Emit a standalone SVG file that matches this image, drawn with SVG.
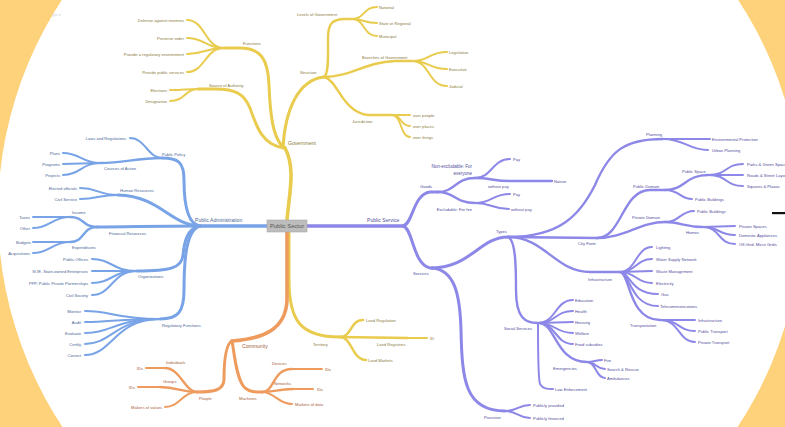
<svg xmlns="http://www.w3.org/2000/svg" width="785" height="427" viewBox="0 0 785 427">
<style>
text{font-family:"Liberation Sans",Arial,sans-serif;font-size:4.1px;dominant-baseline:central}
.m{font-size:5.1px}
.e{text-anchor:end}
.ty{fill:#8a7a3a}.tb{fill:#4a6696}.tp{fill:#514d9c}.to{fill:#a5603a}
path{fill:none;stroke-linecap:round}
.y{stroke:#e9cb4d}.b{stroke:#78a3e6}.p{stroke:#8d88e7}.o{stroke:#ee9b5e}
.w1{stroke-width:3.6}.w2{stroke-width:3}.w3{stroke-width:2.4}.w4{stroke-width:2}
</style>
<rect width="785" height="427" fill="#fed27b"/>
<ellipse cx="400" cy="213" rx="402" ry="394" fill="#ffffff"/>
<text x="52" y="14" style="fill:#cfcfcf">gle.it</text>
<rect x="772" y="212" width="13" height="2.2" fill="#111"/>

<g id="connectors">
<!-- Government -->
<path class="y w1" d="M287,220 C289,195 296,168 285,148"/>
<path class="y w2" d="M285,148 C272,140 270,110 269,85 C268,58 260,48 240,48 L224,48"/>
<path class="y w4" d="M224,48 C205,48 205,20 187,20"/>
<path class="y w4" d="M224,48 C205,48 205,38 187,38"/>
<path class="y w4" d="M224,48 C205,48 205,54 187,54"/>
<path class="y w4" d="M224,48 C205,48 205,72 187,72"/>
<path class="y w2" d="M285,148 C262,146 256,125 250,108 C244,94 236,89 215,89 L198,89"/>
<path class="y w4" d="M198,89 C185,89 185,90 170,90"/>
<path class="y w4" d="M198,89 C185,89 185,101 170,101"/>
<path class="y w2" d="M283,148 C285,110 298,80 324,77"/>
<path class="y w3" d="M324,77 C329,74 328,55 328,38 C328,24 332,19 345,19 L352,19"/>
<path class="y w4" d="M352,19 C365,19 363,7 377,7"/>
<path class="y w4" d="M352,19 C365,19 363,23 377,23"/>
<path class="y w4" d="M352,19 C365,19 363,36 377,36"/>
<path class="y w3" d="M324,77 C350,77 365,62 395,61 L412,61"/>
<path class="y w4" d="M412,61 C430,61 428,52 447,52"/>
<path class="y w4" d="M412,61 C430,61 428,69 447,69"/>
<path class="y w4" d="M412,61 C430,61 428,86 447,86"/>
<path class="y w3" d="M324,77 C338,80 342,112 368,115 L392,115"/>
<path class="y w4" d="M392,115 L410,115"/>
<path class="y w4" d="M392,115 C402,115 400,126 410,126"/>
<path class="y w4" d="M392,115 C402,115 400,137 410,137"/>
<path class="y w2" d="M289,232 L289,280 C289,320 300,337 340,337"/>
<path class="y w3" d="M340,337 C352,337 350,320 363,320"/>
<path class="y w3" d="M340,337 L408,338"/>
<path class="y w4" d="M408,338 L427,338"/>
<path class="y w3" d="M340,337 C352,337 352,360 366,360"/>
<!-- Community -->
<path class="o w1" d="M287,232 L287,300 C286,330 262,339 232,341"/>
<path class="o w2" d="M232,341 C224,345 224,370 224,380 C223,390 215,392 197,392"/>
<path class="o w3" d="M197,392 C185,392 180,368 165,368"/>
<path class="o w4" d="M165,368 L146,368"/>
<path class="o w3" d="M197,392 C180,392 178,387 160,387"/>
<path class="o w4" d="M160,387 L138,387"/>
<path class="o w4" d="M197,392 C182,392 180,407 165,407"/>
<path class="o w2" d="M232,341 C234,350 236,380 245,388 C250,392 255,392 262,392"/>
<path class="o w3" d="M262,392 C275,392 272,369 292,369"/>
<path class="o w4" d="M292,369 L322,369"/>
<path class="o w3" d="M262,392 C275,392 278,389 293,389"/>
<path class="o w4" d="M293,389 L313,389"/>
<path class="o w4" d="M262,392 C275,392 278,404 292,404"/>
<!-- Public Administration -->
<path class="b w1" d="M267,226 L200,226"/>
<path class="b w2" d="M200,226 C186,224 184,200 184,180 C184,162 178,158 162,158"/>
<path class="b w4" d="M162,158 C148,158 145,138 130,138"/>
<path class="b w3" d="M162,158 C135,158 125,163 100,163"/>
<path class="b w4" d="M100,163 C82,163 80,153 63,153"/>
<path class="b w4" d="M100,163 C82,163 80,164 63,164"/>
<path class="b w4" d="M100,163 C82,163 80,175 63,175"/>
<path class="b w2" d="M200,226 C170,225 160,196 118,195"/>
<path class="b w4" d="M118,195 C98,195 98,188 80,188"/>
<path class="b w4" d="M118,195 C98,195 98,199 80,199"/>
<path class="b w2" d="M200,226 C150,226 130,227 97,227"/>
<path class="b w3" d="M97,227 C82,227 85,217 70,217"/>
<path class="b w4" d="M70,217 L33,217"/>
<path class="b w4" d="M70,217 C52,217 50,228 33,228"/>
<path class="b w3" d="M97,227 C82,227 85,242 70,242"/>
<path class="b w4" d="M70,242 L33,242"/>
<path class="b w4" d="M70,242 C52,242 50,253 33,253"/>
<path class="b w2" d="M200,226 C186,228 184,245 183,255 C182,268 170,271 137,271"/>
<path class="b w4" d="M137,271 C112,271 112,259 92,259"/>
<path class="b w4" d="M137,271 L92,271"/>
<path class="b w4" d="M137,271 C112,271 112,283 92,283"/>
<path class="b w4" d="M137,271 C112,271 112,295 92,295"/>
<path class="b w2" d="M200,226 C186,230 184,260 184,290 C184,312 178,319 160,319"/>
<path class="b w4" d="M160,319 C115,319 112,311 85,311"/>
<path class="b w4" d="M160,319 C115,319 112,322 85,322"/>
<path class="b w4" d="M160,319 C115,319 112,333 85,333"/>
<path class="b w4" d="M160,319 C115,319 112,344 85,344"/>
<path class="b w4" d="M160,319 C115,319 112,355 85,355"/>
<!-- Public Service -->
<path class="p w1" d="M307,226 L403,226"/>
<path class="p w2" d="M403,226 C413,224 413,194 430,192 L438,192"/>
<path class="p w3" d="M438,192 C455,192 455,178 475,178"/>
<path class="p w4" d="M475,178 C492,178 492,159 510,159"/>
<path class="p w3" d="M475,178 C492,178 492,181 510,181 L552,181"/>
<path class="p w3" d="M438,192 C455,192 455,203 475,203"/>
<path class="p w4" d="M475,203 C492,203 492,194 510,194"/>
<path class="p w4" d="M475,203 C492,203 492,209 509,209"/>
<path class="p w2" d="M403,226 C413,228 413,265 430,268 L432,268"/>
<path class="p w2" d="M432,268 C470,268 480,237 508,237"/>
<path class="p w3" d="M508,237 C560,237 580,215 595,185 C610,150 625,139 663,139"/>
<path class="p w4" d="M663,139 L710,139"/>
<path class="p w4" d="M663,139 C685,139 688,150 708,150"/>
<path class="p w3" d="M508,237 L597,238"/>
<path class="p w3" d="M597,238 C622,238 622,190 650,190 L665,190"/>
<path class="p w3" d="M665,190 C685,190 685,175 708,175"/>
<path class="p w4" d="M708,175 C728,175 725,164 743,164"/>
<path class="p w4" d="M708,175 L743,175"/>
<path class="p w4" d="M708,175 C728,175 725,186 743,186"/>
<path class="p w4" d="M665,190 C680,190 680,199 692,199"/>
<path class="p w3" d="M597,238 C625,238 640,222 665,222"/>
<path class="p w4" d="M665,222 C680,222 680,211 694,211"/>
<path class="p w3" d="M665,222 C680,222 685,227 703,227"/>
<path class="p w4" d="M703,227 L735,226"/>
<path class="p w4" d="M703,227 C720,227 718,235 735,235"/>
<path class="p w4" d="M703,227 C720,227 718,244 735,244"/>
<path class="p w3" d="M508,237 C545,237 555,272 590,272 L620,272"/>
<path class="p w4" d="M620,272 C636,272 636,247 652,247"/>
<path class="p w4" d="M620,272 C636,272 636,259 652,259"/>
<path class="p w4" d="M620,272 L652,271"/>
<path class="p w4" d="M620,272 C636,272 636,283 652,283"/>
<path class="p w4" d="M620,272 C630,272 630,294 658,294"/>
<path class="p w4" d="M620,272 C630,272 630,306 658,306"/>
<path class="p w3" d="M620,272 C630,272 628,320 660,320"/>
<path class="p w4" d="M660,320 L695,320"/>
<path class="p w4" d="M660,320 C680,320 678,331 695,331"/>
<path class="p w4" d="M660,320 C680,320 678,342 695,342"/>
<path class="p w3" d="M508,237 C516,240 516,270 516,290 C516,318 525,323 538,323"/>
<path class="p w4" d="M538,323 C556,323 555,300 573,300"/>
<path class="p w4" d="M538,323 C556,323 555,311 573,311"/>
<path class="p w4" d="M538,323 L573,322"/>
<path class="p w4" d="M538,323 C556,323 555,333 573,333"/>
<path class="p w4" d="M538,323 C556,323 555,344 573,344"/>
<path class="p w3" d="M540,323 C556,325 556,362 587,362"/>
<path class="p w4" d="M587,362 C595,362 595,360 602,360"/>
<path class="p w4" d="M587,362 C596,362 596,369 605,369"/>
<path class="p w4" d="M587,362 C596,362 596,378 605,378"/>
<path class="p w4" d="M538,323 C538,340 538,378 540,384 C543,389 547,389 553,389"/>
<path class="p w2" d="M432,268 C455,270 460,295 461,330 C462,380 465,411 505,411"/>
<path class="p w4" d="M505,411 C518,411 518,405 530,405"/>
<path class="p w4" d="M505,411 C518,411 518,418 530,418"/>
</g>

<g id="center"><rect x="267" y="220" width="40" height="12" fill="#bdbdbd" stroke="#a8a8a8" stroke-width="0.6"/><text x="287" y="226.3" style="font-size:5.8px;fill:#555;text-anchor:middle">Public Sector</text></g>

<g id="government"><text class="ty m" x="288" y="143">Government</text></g>
<g id="functions"><text class="ty" x="243" y="43">Functions</text></g>
<g id="defense"><text class="ty e" x="184" y="20">Defense against enemies</text></g>
<g id="preserve"><text class="ty e" x="184" y="38">Preserve order</text></g>
<g id="regulatory-env"><text class="ty e" x="184" y="54">Provide a regulatory environment</text></g>
<g id="public-services"><text class="ty e" x="184" y="72">Provide public services</text></g>
<g id="source"><text class="ty" x="209" y="85">Source of Authority</text></g>
<g id="elections"><text class="ty e" x="167" y="90">Elections</text></g>
<g id="designation"><text class="ty e" x="167" y="101">Designation</text></g>
<g id="structure"><text class="ty" x="300" y="72">Structure</text></g>
<g id="levels"><text class="ty" x="297" y="14">Levels of Government</text></g>
<g id="national"><text class="ty" x="379" y="7">National</text></g>
<g id="state"><text class="ty" x="379" y="23">State or Regional</text></g>
<g id="municipal"><text class="ty" x="379" y="36">Municipal</text></g>
<g id="branches"><text class="ty" x="362" y="57">Branches of Government</text></g>
<g id="legislative"><text class="ty" x="449" y="52">Legislative</text></g>
<g id="executive"><text class="ty" x="449" y="69">Executive</text></g>
<g id="judicial"><text class="ty" x="449" y="86">Judicial</text></g>
<g id="jurisdiction"><text class="ty" x="352" y="121">Jurisdiction</text></g>
<g id="over-people"><text class="ty" x="413" y="115">over people</text></g>
<g id="over-places"><text class="ty" x="413" y="126">over places</text></g>
<g id="over-things"><text class="ty" x="413" y="137">over things</text></g>
<g id="territory"><text class="ty" x="313" y="344">Territory</text></g>
<g id="land-regulation"><text class="ty" x="366" y="320">Land Regulation</text></g>
<g id="land-registries"><text class="ty" x="377" y="344">Land Registries</text></g>
<g id="id"><text class="ty" x="430" y="338">ID</text></g>
<g id="land-markets"><text class="ty" x="368" y="360">Land Markets</text></g>

<g id="community"><text class="to m" x="242" y="346">Community</text></g>
<g id="people"><text class="to" x="199" y="398">People</text></g>
<g id="individuals"><text class="to" x="166" y="362">Individuals</text></g>
<g id="ids-1"><text class="to e" x="143" y="368">IDs</text></g>
<g id="groups"><text class="to" x="163" y="381">Groups</text></g>
<g id="ids-2"><text class="to e" x="135" y="387">IDs</text></g>
<g id="makers"><text class="to e" x="162" y="407">Makers of values</text></g>
<g id="machines"><text class="to" x="239" y="398">Machines</text></g>
<g id="devices"><text class="to" x="272" y="363">Devices</text></g>
<g id="ids-3"><text class="to" x="325" y="369">IDs</text></g>
<g id="networks"><text class="to" x="274" y="383">Networks</text></g>
<g id="ids-4"><text class="to" x="317" y="389">IDs</text></g>
<g id="markets-data"><text class="to" x="295" y="404">Markets of data</text></g>

<g id="public-administration"><text class="tb m" x="195" y="220">Public Administration</text></g>
<g id="public-policy"><text class="tb" x="162" y="154">Public Policy</text></g>
<g id="laws"><text class="tb e" x="126" y="138">Laws and Regulations</text></g>
<g id="courses"><text class="tb" x="104" y="168">Courses of Action</text></g>
<g id="plans"><text class="tb e" x="60" y="153">Plans</text></g>
<g id="programs"><text class="tb e" x="60" y="164">Programs</text></g>
<g id="projects"><text class="tb e" x="60" y="175">Projects</text></g>
<g id="human-resources"><text class="tb" x="120" y="190">Human Resources</text></g>
<g id="elected"><text class="tb e" x="77" y="188">Elected officials</text></g>
<g id="civil-service"><text class="tb e" x="77" y="199">Civil Service</text></g>
<g id="financial"><text class="tb" x="109" y="233">Financial Resources</text></g>
<g id="income"><text class="tb" x="72" y="212">Income</text></g>
<g id="taxes"><text class="tb e" x="30" y="217">Taxes</text></g>
<g id="other"><text class="tb e" x="30" y="228">Other</text></g>
<g id="expenditures"><text class="tb" x="72" y="247">Expenditures</text></g>
<g id="budgets"><text class="tb e" x="31" y="242">Budgets</text></g>
<g id="acquisitions"><text class="tb e" x="30" y="253">Acquisitions</text></g>
<g id="organizations"><text class="tb" x="138" y="276">Organizations</text></g>
<g id="public-offices"><text class="tb e" x="88" y="259">Public Offices</text></g>
<g id="soe"><text class="tb e" x="88" y="271">SOE, State-owned Enterprises</text></g>
<g id="ppp"><text class="tb e" x="88" y="283">PPP, Public Private Partnerships</text></g>
<g id="civil-society"><text class="tb e" x="88" y="295">Civil Society</text></g>
<g id="regulatory-functions"><text class="tb" x="162" y="325">Regulatory Functions</text></g>
<g id="monitor"><text class="tb e" x="81" y="311">Monitor</text></g>
<g id="audit"><text class="tb e" x="81" y="322">Audit</text></g>
<g id="evaluate"><text class="tb e" x="81" y="333">Evaluate</text></g>
<g id="certify"><text class="tb e" x="81" y="344">Certify</text></g>
<g id="correct"><text class="tb e" x="81" y="355">Correct</text></g>

<g id="public-service"><text class="tp m" x="367" y="220">Public Service</text></g>
<g id="goods"><text class="tp" x="420" y="186">Goods</text></g>
<g id="non-excludable"><text class="tp e" x="472" y="166" style="font-size:4.5px">Non-excludable: For</text><text class="tp e" x="472" y="173" style="font-size:4.5px">everyone</text></g>
<g id="pay-1"><text class="tp" x="513" y="159">Pay</text></g>
<g id="without-pay-1"><text class="tp" x="488" y="186">without pay</text></g>
<g id="nature"><text class="tp" x="554" y="181">Nature</text></g>
<g id="excludable"><text class="tp e" x="472" y="209">Excludable: For fee</text></g>
<g id="pay-2"><text class="tp" x="513" y="194">Pay</text></g>
<g id="without-pay-2"><text class="tp" x="511" y="209">without pay</text></g>
<g id="services"><text class="tp" x="413" y="273">Services</text></g>
<g id="types"><text class="tp" x="496" y="231">Types</text></g>
<g id="planning"><text class="tp" x="646" y="134">Planning</text></g>
<g id="env-protection"><text class="tp" x="712" y="139">Environmental Protection</text></g>
<g id="urban-planning"><text class="tp" x="712" y="150">Urban Planning</text></g>
<g id="city-form"><text class="tp" x="578" y="243">City Form</text></g>
<g id="public-domain"><text class="tp" x="633" y="186">Public Domain</text></g>
<g id="public-space"><text class="tp" x="682" y="171">Public Space</text></g>
<g id="parks"><text class="tp" x="747" y="164">Parks &amp; Green Spaces</text></g>
<g id="roads"><text class="tp" x="747" y="175">Roads &amp; Street Layout</text></g>
<g id="squares"><text class="tp" x="747" y="186">Squares &amp; Plazas</text></g>
<g id="public-buildings-1"><text class="tp" x="695" y="199">Public Buildings</text></g>
<g id="private-domain"><text class="tp" x="632" y="217">Private Domain</text></g>
<g id="public-buildings-2"><text class="tp" x="697" y="211">Public Buildings</text></g>
<g id="homes"><text class="tp" x="686" y="232">Homes</text></g>
<g id="private-spaces"><text class="tp" x="739" y="226">Private Spaces</text></g>
<g id="domestic"><text class="tp" x="739" y="235">Domestic Appliances</text></g>
<g id="off-grid"><text class="tp" x="739" y="244">Off-Grid, Micro Grids</text></g>
<g id="infrastructure"><text class="tp" x="588" y="279">Infrastructure</text></g>
<g id="lighting"><text class="tp" x="656" y="247">Lighting</text></g>
<g id="water"><text class="tp" x="656" y="259">Water Supply Network</text></g>
<g id="waste"><text class="tp" x="656" y="271">Waste Management</text></g>
<g id="electricity"><text class="tp" x="656" y="283">Electricity</text></g>
<g id="gas"><text class="tp" x="661" y="294">Gas</text></g>
<g id="telecom"><text class="tp" x="660" y="306">Telecommunications</text></g>
<g id="transportation"><text class="tp" x="630" y="325">Transportation</text></g>
<g id="transport-infra"><text class="tp" x="698" y="320">Infrastructure</text></g>
<g id="public-transport"><text class="tp" x="698" y="331">Public Transport</text></g>
<g id="private-transport"><text class="tp" x="698" y="342">Private Transport</text></g>
<g id="social-services"><text class="tp" x="504" y="328">Social Services</text></g>
<g id="education"><text class="tp" x="575" y="300">Education</text></g>
<g id="health"><text class="tp" x="575" y="311">Health</text></g>
<g id="housing"><text class="tp" x="575" y="322">Housing</text></g>
<g id="welfare"><text class="tp" x="575" y="333">Welfare</text></g>
<g id="food"><text class="tp" x="575" y="344">Food subsidies</text></g>
<g id="emergencies"><text class="tp" x="553" y="368">Emergencies</text></g>
<g id="fire"><text class="tp" x="604" y="360">Fire</text></g>
<g id="search"><text class="tp" x="607" y="369">Search &amp; Rescue</text></g>
<g id="ambulances"><text class="tp" x="607" y="378">Ambulances</text></g>
<g id="law-enforcement"><text class="tp" x="555" y="389">Law Enforcement</text></g>
<g id="provision"><text class="tp" x="484" y="417">Provision</text></g>
<g id="publicly-provided"><text class="tp" x="533" y="405">Publicly provided</text></g>
<g id="publicly-financed"><text class="tp" x="533" y="418">Publicly financed</text></g>
</svg>
